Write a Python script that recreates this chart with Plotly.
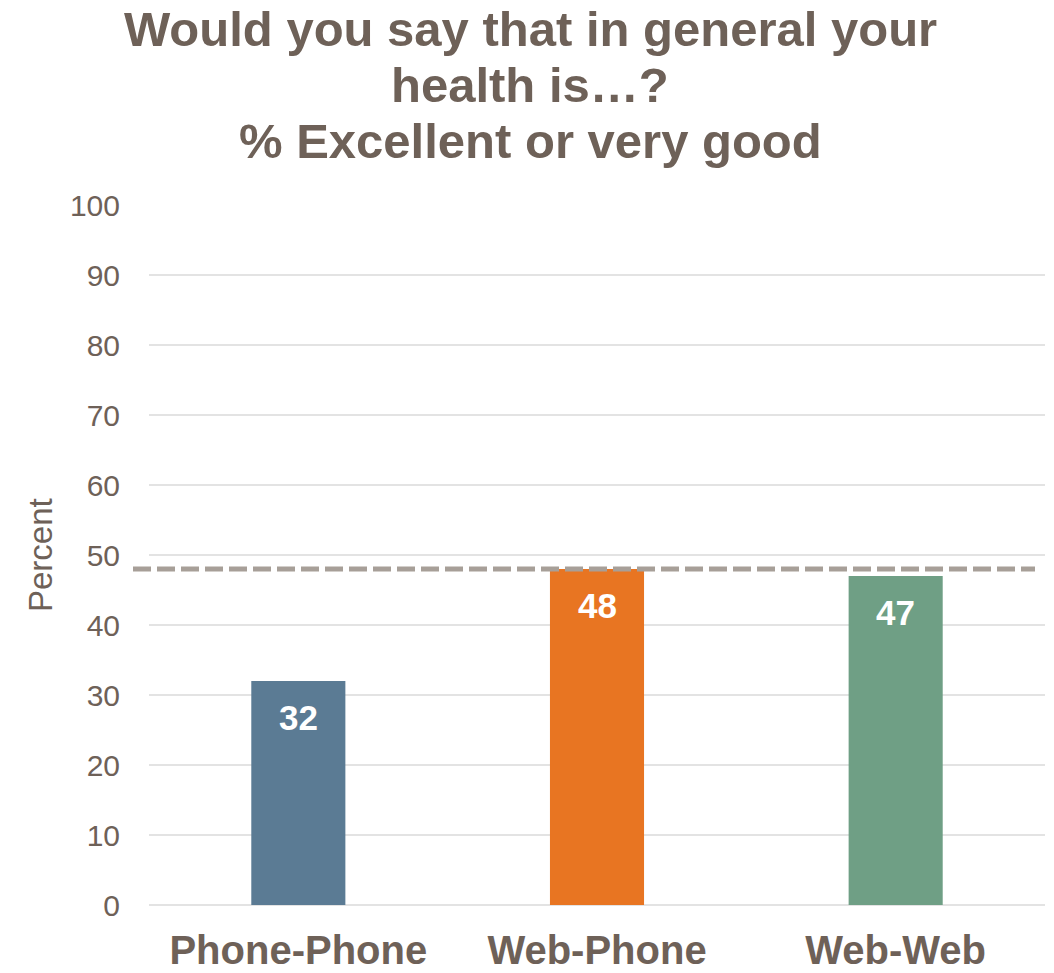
import plotly.graph_objects as go

categories = ["Phone-Phone", "Web-Phone", "Web-Web"]
values = [32, 48, 47]
bar_colors = ["#5b7b94", "#e87522", "#6f9f85"]
reference_value = 48
y_ticks = [0, 10, 20, 30, 40, 50, 60, 70, 80, 90, 100]
title_lines = ["Would you say that in general your", "health is\u2026?", "% Excellent or very good"]

TXT = "#6e6158"
FONT = "Liberation Sans, Arial, sans-serif"

# plot area target in page px: x 149..1045, y 205..905 (body margin removed below)
PL, PR, PT, PB = 149, 1045, 205, 905
PW, PH = PR - PL, PB - PT
FIG_W, FIG_H = 1054, 973

fig = go.Figure()
fig.add_trace(go.Bar(
    x=categories, y=values, marker=dict(color=bar_colors, line=dict(width=0)),
    hoverinfo="skip",
))

annotations = []
for c, v in zip(categories, values):
    annotations.append(dict(
        x=c, y=v, xref="x", yref="y", text=str(v), showarrow=False,
        yshift=-36, yanchor="middle",
        font=dict(family=FONT, size=35, color="white", weight="bold"),
    ))

# title lines
title_y_px = [29, 85, 141]
for line, ypx in zip(title_lines, title_y_px):
    annotations.append(dict(
        x=(530 - PL) / PW, y=(PB - ypx) / PH, xref="paper", yref="paper",
        text="<b>" + line + "</b>", showarrow=False, xanchor="center", yanchor="middle",
        font=dict(family=FONT, size=49, color=TXT),
    ))

# y-axis title
annotations.append(dict(
    x=(40 - PL) / PW, y=0.5, xref="paper", yref="paper", text="Percent",
    textangle=-90, showarrow=False, xanchor="center", yanchor="middle",
    font=dict(family=FONT, size=33, color=TXT),
))

fig.add_shape(
    type="line", xref="paper", yref="y",
    x0=(133 - PL) / PW, x1=(1035 - PL) / PW, y0=reference_value, y1=reference_value,
    line=dict(color="#a79f98", width=5, dash="18px,6px"),
)

fig.update_layout(
    width=FIG_W, height=FIG_H,
    margin=dict(l=PL, r=FIG_W - PR, t=PT, b=FIG_H - PB, autoexpand=False),
    paper_bgcolor="white", plot_bgcolor="white",
    bargap=0.685,
    showlegend=False,
    annotations=annotations,
    font=dict(family=FONT, color=TXT),
    xaxis=dict(
        showgrid=False, showline=False, ticks="", automargin=False,
        tickfont=dict(family=FONT, size=40, color=TXT, weight="bold"),
        ticklabelstandoff=18,
    ),
    yaxis=dict(
        range=[0, 100], tickvals=y_ticks, showgrid=True, gridcolor="#e3e3e3", gridwidth=2,
        zeroline=True, zerolinecolor="#e3e3e3", zerolinewidth=2, automargin=False,
        showline=False, ticks="",
        tickfont=dict(family=FONT, size=30, color=TXT),
        ticklabelstandoff=28,
    ),
)

fig.write_html(
    "out.html",
    config={"displayModeBar": False},
    post_script="document.body.style.margin='0px';document.body.style.overflow='hidden';",
)
